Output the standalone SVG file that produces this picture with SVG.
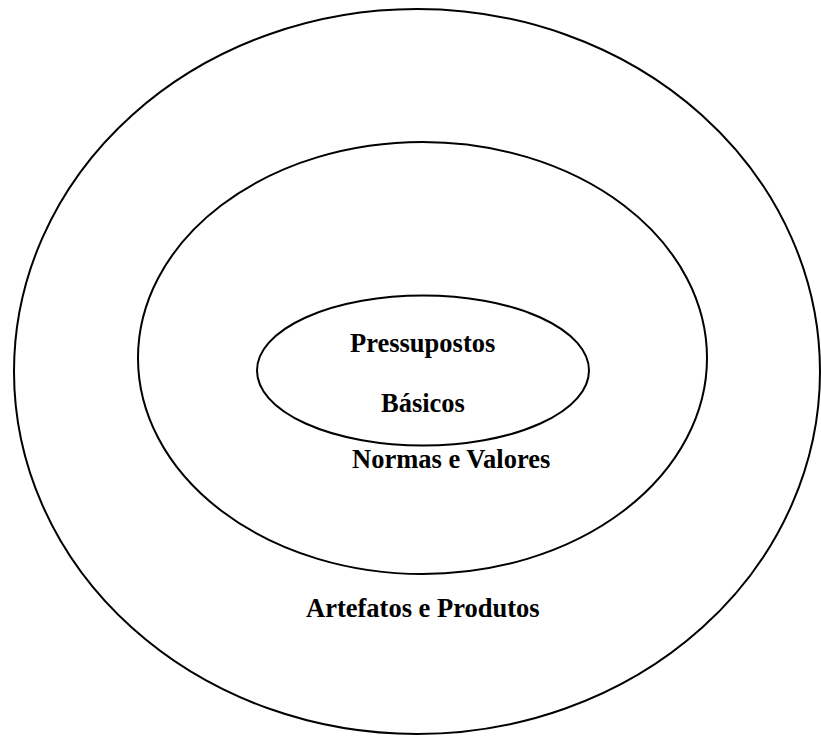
<svg xmlns="http://www.w3.org/2000/svg" width="821" height="736" viewBox="0 0 821 736">
  <style>
    .ring { fill: none; stroke: #000; stroke-width: 2; }
    .label { font-family: "Liberation Serif", "Times New Roman", serif; font-weight: bold; font-size: 26.5px; fill: #000; }
  </style>
  <rect width="821" height="736" fill="#fff"/>
  <g id="artefatos">
    <ellipse class="ring" cx="417" cy="371.5" rx="403" ry="362.5"/>
    <text class="label" x="306" y="617">Artefatos e Produtos</text>
  </g>
  <g id="normas">
    <ellipse class="ring" cx="422.5" cy="358" rx="284.5" ry="216"/>
    <text class="label" x="352" y="468">Normas e Valores</text>
  </g>
  <g id="pressupostos">
    <ellipse class="ring" cx="423" cy="370.5" rx="166" ry="75"/>
    <text class="label" x="350" y="352">Pressupostos</text>
    <text class="label" x="381" y="412">Básicos</text>
  </g>
  <g id="connectors"/>
</svg>
